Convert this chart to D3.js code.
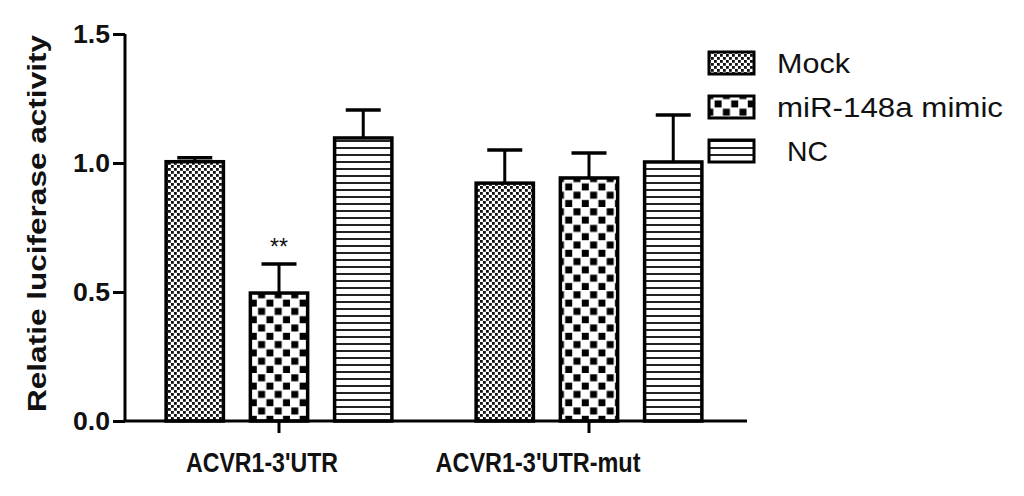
<!DOCTYPE html>
<html>
<head>
<meta charset="utf-8">
<script src="https://cdn.jsdelivr.net/npm/d3@7"></script>
<style>
  html, body { margin: 0; padding: 0; background: #fff; }
  svg { display: block; }
  text { font-family: "Liberation Sans", Arial, sans-serif; fill: #111; }
</style>
</head>
<body>
<svg id="chart" width="1024" height="496"></svg>
<script>
// ---- data ----
const groups = ["ACVR1-3'UTR", "ACVR1-3'UTR-mut"];
const series = ["Mock", "miR-148a mimic", "NC"];
const legendLabels = ["Mock", "miR-148a mimic", " NC"];
const mockMean = [1.005, 0.922];
const mimicMean = [0.496, 0.942];
const ncMean = [1.097, 1.004];
const mockErr = [0.015, 0.128];
const mimicErr = [0.113, 0.097];
const ncErr = [0.108, 0.182];
const yTicks = [0.0, 0.5, 1.0, 1.5];
const yTitle = "Relatie luciferase activity";
const significance = [{ group: "ACVR1-3'UTR", series: "miR-148a mimic", label: "**" }];

const means = [mockMean, mimicMean, ncMean];
const errs = [mockErr, mimicErr, ncErr];
const rows = [];
series.forEach((s, si) => groups.forEach((g, gi) => rows.push({ group: g, series: s, si, value: means[si][gi], err: errs[si][gi] })));

// ---- layout ----
const svg = d3.select("#chart");
const yTop = 34, yBottom = 421, xLeft = 125, xRight = 747;

const y = d3.scaleLinear().domain([0, 1.5]).range([yBottom, yTop]);
const x0 = d3.scaleBand().domain(groups).range([124, 744]).padding(0);
const x1 = d3.scaleBand().domain(series).range([0, x0.bandwidth()]).paddingInner(0.32).paddingOuter(0.5);

// ---- patterns ----
const defs = svg.append("defs");
// fine dotted checker (Mock)
const p0 = defs.append("pattern").attr("id", "pat0").attr("patternUnits", "userSpaceOnUse")
  .attr("width", 6).attr("height", 6);
p0.append("rect").attr("width", 6).attr("height", 6).attr("fill", "#fff");
p0.append("rect").attr("x", 0).attr("y", 0).attr("width", 2.8).attr("height", 2.8).attr("fill", "#111");
p0.append("rect").attr("x", 3).attr("y", 3).attr("width", 2.8).attr("height", 2.8).attr("fill", "#111");
// coarse checker (mimic)
const p1 = defs.append("pattern").attr("id", "pat1").attr("patternUnits", "userSpaceOnUse")
  .attr("width", 16.6).attr("height", 16.6);
p1.append("rect").attr("width", 16.6).attr("height", 16.6).attr("fill", "#fff");
p1.append("rect").attr("x", 0.8).attr("y", 0.8).attr("width", 7).attr("height", 7).attr("fill", "#000");
p1.append("rect").attr("x", 9.1).attr("y", 9.1).attr("width", 7).attr("height", 7).attr("fill", "#000");
// horizontal lines (NC)
const p2 = defs.append("pattern").attr("id", "pat2").attr("patternUnits", "userSpaceOnUse")
  .attr("width", 8).attr("height", 7);
p2.append("rect").attr("width", 8).attr("height", 7).attr("fill", "#fff");
p2.append("rect").attr("x", 0).attr("y", 0).attr("width", 8).attr("height", 2).attr("fill", "#222");

const fills = ["url(#pat0)", "url(#pat1)", "url(#pat2)"];

// ---- bars ----
const g = svg.append("g");
rows.forEach(d => {
  const bx = x0(d.group) + x1(d.series);
  const cx = bx + x1.bandwidth() / 2;
  // error bar (upper only)
  g.append("line").attr("x1", cx).attr("x2", cx).attr("y1", y(d.value)).attr("y2", y(d.value + d.err))
    .attr("stroke", "#000").attr("stroke-width", 3);
  g.append("line").attr("x1", cx - 17.5).attr("x2", cx + 17.5).attr("y1", y(d.value + d.err)).attr("y2", y(d.value + d.err))
    .attr("stroke", "#000").attr("stroke-width", 3.5);
  g.append("rect").attr("x", bx).attr("y", y(d.value)).attr("width", x1.bandwidth()).attr("height", y(0) - y(d.value))
    .attr("fill", fills[d.si]).attr("stroke", "#000").attr("stroke-width", 3.5);
});

// significance
significance.forEach(s => {
  const r = rows.find(d => d.group === s.group && d.series === s.series);
  const cx = x0(s.group) + x1(s.series) + x1.bandwidth() / 2;
  svg.append("text").attr("x", cx).attr("y", y(r.value + r.err) - 9).attr("text-anchor", "middle")
    .attr("font-size", 23).attr("fill", "#333").text(s.label);
});

// ---- axes ----
const yAxis = svg.append("g").attr("transform", `translate(${xLeft},0)`)
  .call(d3.axisLeft(y).tickValues(yTicks).tickFormat(d3.format(".1f")).tickSize(12).tickPadding(3));
yAxis.select(".domain").attr("stroke", "#000").attr("stroke-width", 3).attr("d", `M0,${yTop}V${yBottom}`);
yAxis.selectAll(".tick line").attr("stroke", "#000").attr("stroke-width", 3);
yAxis.selectAll(".tick text").attr("font-size", 26).attr("font-weight", "bold").attr("fill", "#111")
  .attr("font-family", "'Liberation Sans', Arial, sans-serif")
  .attr("textLength", 37).attr("lengthAdjust", "spacingAndGlyphs");

const xAxis = svg.append("g").attr("transform", `translate(0,${yBottom})`)
  .call(d3.axisBottom(x0).tickSize(12).tickFormat(""));
xAxis.select(".domain").attr("stroke", "#000").attr("stroke-width", 3).attr("d", `M${xLeft - 1.5},0H${xRight}`);
xAxis.selectAll(".tick line").attr("stroke", "#000").attr("stroke-width", 3);

// group labels (offset left of tick as in reference)
const xLabelWidths = [152, 205];
groups.forEach((gname, i) => {
  const cx = x0(gname) + x0.bandwidth() / 2;
  svg.append("text").attr("x", cx - 17 - (i === 1 ? 34 : 0)).attr("y", 472).attr("text-anchor", "middle")
    .attr("font-size", 27).attr("font-weight", "bold")
    .attr("textLength", xLabelWidths[i]).attr("lengthAdjust", "spacingAndGlyphs").text(gname);
});

// y title
svg.append("text").attr("transform", "translate(46,223.5) rotate(-90)").attr("text-anchor", "middle")
  .attr("font-size", 25).attr("font-weight", "bold")
  .attr("textLength", 377).attr("lengthAdjust", "spacingAndGlyphs").text(yTitle);

// ---- legend ----
const legendW = [73, 226, 41];
const leg = svg.append("g");
series.forEach((s, i) => {
  const yy = 52 + i * 44;
  leg.append("rect").attr("x", 709).attr("y", yy).attr("width", 45).attr("height", 22)
    .attr("fill", fills[i]).attr("stroke", "#000").attr("stroke-width", 3);
  const t = leg.append("text").attr("x", i === 2 ? 787 : 777).attr("y", yy + 21).attr("font-size", 28)
    .text(legendLabels[i].trim());
  t.attr("textLength", legendW[i]).attr("lengthAdjust", "spacingAndGlyphs");
});
</script>
</body>
</html>
